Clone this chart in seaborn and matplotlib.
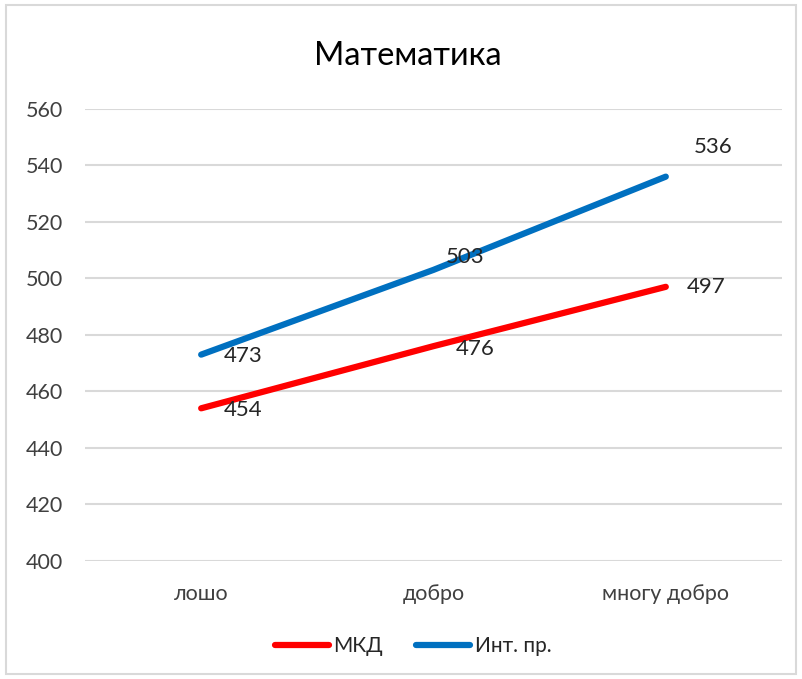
import pandas as pd
import matplotlib
matplotlib.use("Agg")
from matplotlib import pyplot as plt
from matplotlib.patches import Rectangle
import seaborn as sns

categories = ["лошо", "добро", "многу добро"]
mkd = [454, 476, 497]
int_pr = [473, 503, 536]
series_names = ["МКД", "Инт. пр."]
colors = ["#FF0000", "#0070C0"]
yticks = [400, 420, 440, 460, 480, 500, 520, 540, 560]


def main():
    sns.set_style("white")
    plt.rcParams['font.family'] = ['Lato', 'Open Sans', 'DejaVu Sans']

    data = pd.DataFrame({
        "cat": categories * 2,
        "x": list(range(len(categories))) * 2,
        "value": mkd + int_pr,
        "series": [series_names[0]] * 3 + [series_names[1]] * 3,
    })

    fig = plt.figure(figsize=(8.02, 6.79), dpi=100)
    ax = fig.add_axes([0.106, 0.174, 0.869, 0.6657])

    for y in yticks:
        ax.axhline(y, color="#D9D9D9", lw=1.5, zorder=0)

    sns.lineplot(data=data, x="x", y="value", hue="series",
                 palette=dict(zip(series_names, colors)), linewidth=4.5,
                 ax=ax, legend=False, solid_capstyle="round")

    # data labels (offsets in points, left edge of text)
    offsets = {
        series_names[0]: [(16, -1), (16, -2), (15, 0)],
        series_names[1]: [(16, -1), (9, 9), (20, 21)],
    }
    for s in series_names:
        sub = data[data["series"] == s]
        for i, (xv, yv) in enumerate(zip(sub["x"], sub["value"])):
            ax.annotate(str(yv), (xv, yv), xytext=offsets[s][i],
                        textcoords="offset points", ha="left", va="center",
                        fontsize=16, color="#262626")

    ax.set_xlim(-0.5, 2.5)
    ax.set_ylim(400, 560)
    ax.set_xticks(range(len(categories)))
    ax.set_xticklabels(categories)
    ax.set_yticks(yticks)
    ax.tick_params(axis="both", labelsize=15.5, colors="#404040", length=0)
    ax.tick_params(axis="x", pad=17)
    ax.tick_params(axis="y", pad=16)
    for sp in ax.spines.values():
        sp.set_visible(False)
    ax.set_xlabel("")
    ax.set_ylabel("")

    fig.text(0.508, 0.918, "Математика", ha="center", va="center",
             fontsize=23.5, color="#000000")

    handles = [plt.Line2D([], [], color=c, lw=4.5, solid_capstyle="round")
               for c in colors]
    fig.legend(handles, series_names, loc="center", ncol=2,
               bbox_to_anchor=(0.515, 0.048), frameon=False, fontsize=15,
               handlelength=2.6, columnspacing=1.6, handletextpad=0.2)

    fig.patches.append(Rectangle((0.008, 0.008), 0.984, 0.984,
                                 transform=fig.transFigure, fill=False,
                                 edgecolor="#D9D9D9", lw=1.5))

    fig.savefig("out.png", dpi=100)


if __name__ == '__main__':
    main()
